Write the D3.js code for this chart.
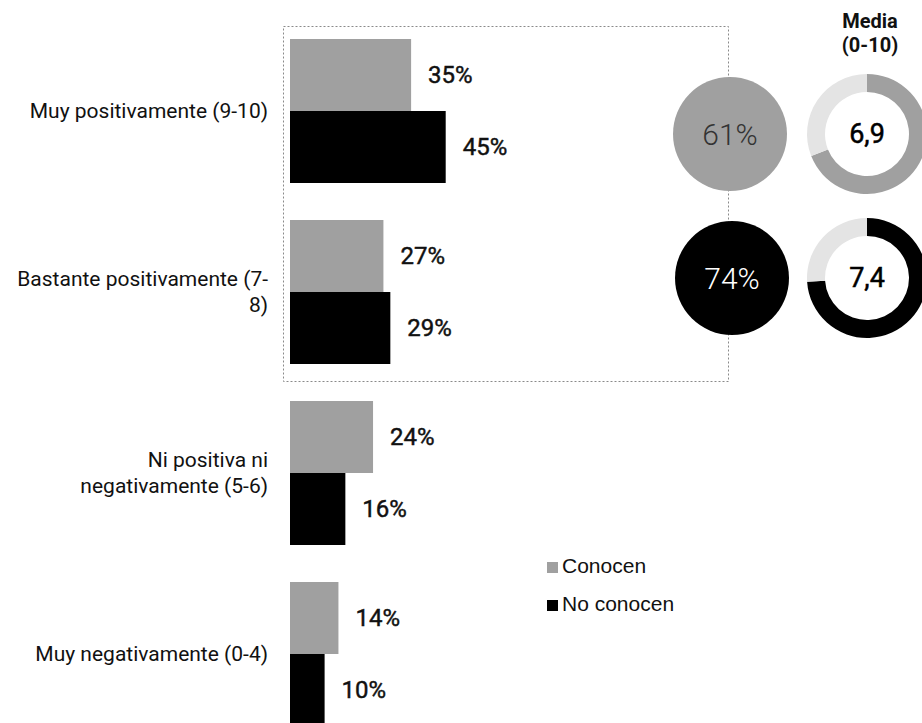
<!DOCTYPE html>
<html>
<head>
<meta charset="utf-8">
<script src="https://cdn.jsdelivr.net/npm/d3@7/dist/d3.min.js"></script>
<style>
  html, body { margin: 0; padding: 0; background: #fff; }
  svg { display: block; }
</style>
</head>
<body>
<svg id="chart" width="922" height="723"></svg>
<script>
// Valoración: respuestas por categoría, según conozcan o no
const categories = [
  "Muy positivamente (9-10)",
  "Bastante positivamente (7-8)",
  "Ni positiva ni negativamente (5-6)",
  "Muy negativamente (0-4)"
];
const series = ["Conocen", "No conocen"];
const conocen   = [35, 27, 24, 14];
const noConocen = [45, 29, 16, 10];
// Suma de valoraciones positivas (7-10) y media en escala 0-10
const positivas = [61, 74];
const medias = [6.9, 7.4];
const mediaLabels = ["6,9", "7,4"];
const mediaTitle = ["Media", "(0-10)"];

const colors = { "Conocen": "#a0a0a0", "No conocen": "#000000" };
const restColor = "#e4e4e4";

const svg = d3.select("#chart");
const font = "Roboto, 'Noto Sans', sans-serif";

// Scales
const x = d3.scaleLinear().domain([0, 100]).range([290, 290 + 346]);
const y = d3.scaleBand().domain(categories)
  .range([39, 39 + 4 * 181 - 37]).paddingInner(37 / 181).paddingOuter(0);
const ySub = d3.scaleBand().domain(series).range([0, y.bandwidth()]);

const rows = categories.map((c, i) => ({
  cat: c,
  vals: [
    { s: "Conocen", v: conocen[i] },
    { s: "No conocen", v: noConocen[i] }
  ]
}));

// Dotted frame around the two positive categories
const frameTop = y(categories[0]) - 12.5;
const frameBottom = y(categories[1]) + y.bandwidth() + 17.5;
svg.append("rect")
  .attr("x", 283.5).attr("y", frameTop)
  .attr("width", 445).attr("height", frameBottom - frameTop)
  .attr("fill", "none").attr("stroke", "#8a8a8a")
  .attr("stroke-width", 1).attr("stroke-dasharray", "2,2");

// Bars
const g = svg.selectAll("g.row").data(rows).join("g")
  .attr("class", "row")
  .attr("transform", d => `translate(0,${y(d.cat)})`);

g.selectAll("rect").data(d => d.vals).join("rect")
  .attr("x", x(0))
  .attr("y", d => ySub(d.s))
  .attr("width", d => x(d.v) - x(0))
  .attr("height", ySub.bandwidth())
  .attr("fill", d => colors[d.s]);

// Value labels: regular weight with a hairline stroke for a medium look
g.selectAll("text.val").data(d => d.vals).join("text")
  .attr("class", "val")
  .attr("x", d => x(d.v) + 17)
  .attr("y", d => ySub(d.s) + ySub.bandwidth() / 2)
  .attr("dy", "0.35em")
  .attr("font-family", font).attr("font-weight", 400)
  .attr("font-size", 24).attr("fill", "#111")
  .attr("stroke", "#111").attr("stroke-width", 0.45)
  .text(d => d.v + "%");

// Category labels, wrapped to the label column
const labelWidth = 256;
const lineH = 26;
g.each(function (d) {
  const tokens = d.cat.split(/(?<= )|(?<=-)/);
  const t = d3.select(this).append("text")
    .attr("font-family", font).attr("font-size", 21)
    .attr("fill", "#111").attr("text-anchor", "end");
  const lines = [];
  let cur = "";
  const probe = t.append("tspan");
  tokens.forEach(tok => {
    const test = cur + tok;
    probe.text(test.trim());
    if (cur && probe.node().getComputedTextLength() > labelWidth) {
      lines.push(cur.trim());
      cur = tok;
    } else {
      cur = test;
    }
  });
  lines.push(cur.trim());
  probe.remove();
  const mid = y.bandwidth() / 2;
  lines.forEach((ln, i) => {
    t.append("tspan").attr("x", 268)
      .attr("y", mid + (i - (lines.length - 1) / 2) * lineH)
      .attr("dy", "0.35em").text(ln);
  });
});

// Share of positive ratings (full circles) and mean score (donuts)
const yPie = d3.scalePoint().domain(series).range([134, 278]);
const pieX = [730, 732];

series.forEach((s, i) => {
  svg.append("circle")
    .attr("cx", pieX[i]).attr("cy", yPie(s)).attr("r", 57)
    .attr("fill", colors[s]);
  svg.append("text")
    .attr("x", pieX[i]).attr("y", yPie(s)).attr("dy", "0.35em")
    .attr("text-anchor", "middle")
    .attr("font-family", font).attr("font-weight", 300).attr("font-size", 30)
    .attr("fill", i === 0 ? "#333" : "#fff")
    .text(positivas[i] + "%");
});

const donutX = 867;
const arc = d3.arc().innerRadius(42).outerRadius(60);
const pie = d3.pie().sort(null).value(d => d.v);

series.forEach((s, i) => {
  const parts = [
    { v: medias[i], c: colors[s] },
    { v: 10 - medias[i], c: restColor }
  ];
  const dg = svg.append("g").attr("transform", `translate(${donutX},${yPie(s)})`);
  dg.selectAll("path").data(pie(parts)).join("path")
    .attr("d", arc).attr("fill", d => d.data.c);
  dg.append("text")
    .attr("text-anchor", "middle").attr("dy", "0.35em")
    .attr("font-family", font).attr("font-weight", 400).attr("font-size", 27)
    .attr("fill", "#000").attr("stroke", "#000").attr("stroke-width", 0.5)
    .text(mediaLabels[i]);
});

svg.append("text")
  .attr("text-anchor", "middle")
  .attr("font-family", font).attr("font-weight", 700).attr("font-size", 20)
  .attr("fill", "#111")
  .selectAll("tspan").data(mediaTitle).join("tspan")
  .attr("x", 870).attr("y", (d, i) => 28 + i * 24).text(d => d);

// Legend
const legend = svg.append("g").selectAll("g").data(series).join("g")
  .attr("transform", (d, i) => `translate(547,${562 + i * 38})`);
legend.append("rect").attr("width", 11).attr("height", 11)
  .attr("fill", d => colors[d]);
legend.append("text")
  .attr("x", 15).attr("y", 11)
  .attr("font-family", "'Liberation Sans', Arial, sans-serif")
  .attr("font-size", 21).attr("fill", "#111")
  .text(d => d);
</script>
</body>
</html>
